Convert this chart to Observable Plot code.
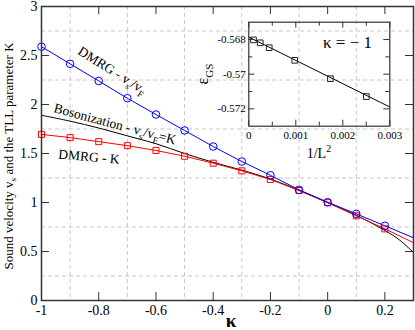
<!DOCTYPE html>
<html>
<head>
<meta charset="utf-8">
<script src="https://cdn.jsdelivr.net/npm/d3@7"></script>
<script src="https://cdn.jsdelivr.net/npm/@observablehq/plot@0.6"></script>
<style>
  html, body { margin: 0; padding: 0; background: white; }
  #chart { position: relative; width: 415px; height: 330px; }
  #chart svg { position: absolute; top: 0; }
  #chart svg, #chart svg text, #chart svg tspan { font-family: 'Liberation Serif', 'DejaVu Serif', serif !important; }
</style>
</head>
<body>
<div id="chart"></div>
<script>
// ---- main chart data ----
const kappa = [-1, -0.9, -0.8, -0.7, -0.6, -0.5, -0.4, -0.3, -0.2, -0.1, 0, 0.1, 0.2];
const vsDMRG = [2.59, 2.415, 2.24, 2.064, 1.898, 1.735, 1.571, 1.418, 1.278, 1.129, 1.003, 0.884, 0.762];
const kDMRG  = [1.695, 1.662, 1.621, 1.58, 1.531, 1.472, 1.401, 1.323, 1.235, 1.122, 0.998, 0.864, 0.731];
const kappaEdge = 0.3;
const vsEdge = 0.64;
const kEdge = 0.59;
const bosKappa = [-1, -0.9, -0.8, -0.7, -0.6, -0.5, -0.4, -0.3, -0.2, -0.1, 0, 0.1, 0.2, 0.25, 0.3];
const bosK     = [1.89, 1.83, 1.76, 1.68, 1.60, 1.50, 1.41, 1.33, 1.24, 1.125, 1.0, 0.87, 0.715, 0.62, 0.49];
const xMajor = [-1, -0.8, -0.6, -0.4, -0.2, 0, 0.2];
const xGrid  = [-0.9, -0.7, -0.5, -0.3, -0.1, 0.1];
const yMajor = [0, 0.5, 1, 1.5, 2, 2.5, 3];
const yGrid  = [0.25, 0.75, 1.25, 1.75, 2.25, 2.75];

// ---- inset data ----
const invL2 = [0.0001, 0.000244, 0.000434, 0.000977, 0.001736, 0.0025];
const eGS   = [-0.56802, -0.56819, -0.56847, -0.5692, -0.57026, -0.57129];
const fitX  = [0, 0.003];
const fitY  = [-0.56786, -0.57189];
const insetXMajor = [0, 0.001, 0.002, 0.003];
const insetXMinor = [0.0005, 0.0015, 0.0025];
const insetYMajor = [-0.568, -0.57, -0.572];
const insetYMinor = [-0.569, -0.571];

const blueData = kappa.map((k, i) => ({k, v: vsDMRG[i]}));
const redData = kappa.map((k, i) => ({k, v: kDMRG[i]}));
const blueLine = [...blueData, {k: kappaEdge, v: vsEdge}];
const redLine = [...redData, {k: kappaEdge, v: kEdge}];
const bosData = bosKappa.map((k, i) => ({k, v: bosK[i]}));
const insetData = invL2.map((x, i) => ({x, y: eGS[i]}));
const fitData = fitX.map((x, i) => ({x, y: fitY[i]}));

const FONT = "'Liberation Serif', 'DejaVu Serif', serif";
const BLUE = "#0000ff", RED = "#ff0000";

const W = 415, H = 330, ML = 41, MR = 2, MT = 6, MB = 30;
const fw = W - ML - MR, fh = H - MT - MB;

const main = Plot.plot({
  width: W, height: H,
  marginLeft: ML, marginRight: MR, marginTop: MT, marginBottom: MB,
  x: {domain: [-1, 0.3]},
  y: {domain: [0, 3]},
  style: {fontFamily: FONT, fontSize: "14px", background: "transparent", overflow: "visible", color: "black"},
  marks: [
    Plot.gridX(xGrid, {stroke: "#c8c8c8", strokeOpacity: 1, strokeDasharray: "4,3"}),
    Plot.gridY(yGrid, {stroke: "#c8c8c8", strokeOpacity: 1, strokeDasharray: "4,3"}),
    Plot.line(bosData, {x: "k", y: "v", curve: "catmull-rom", stroke: "black", strokeWidth: 1}),
    Plot.line(redLine, {x: "k", y: "v", stroke: RED, strokeWidth: 1}),
    Plot.line(blueLine, {x: "k", y: "v", stroke: BLUE, strokeWidth: 1}),
    Plot.dot(redData, {x: "k", y: "v", symbol: "square", r: 3.4, stroke: RED, fill: "none", strokeWidth: 1}),
    Plot.dot(blueData, {x: "k", y: "v", symbol: "circle", r: 3.8, stroke: BLUE, fill: "none", strokeWidth: 1}),
    Plot.tickX(xMajor, {x: d => d, insetTop: fh - 8, stroke: "#333"}),
    Plot.tickX(xMajor, {x: d => d, insetBottom: fh - 8, stroke: "#333"}),
    Plot.tickY(yMajor, {y: d => d, insetRight: fw - 8, stroke: "#333"}),
    Plot.tickY(yMajor, {y: d => d, insetLeft: fw - 8, stroke: "#333"}),
    Plot.frame({stroke: "#333", strokeWidth: 1.5}),
    Plot.axisX(xMajor, {tickSize: 0, tickPadding: 5, tickFormat: d => String(d), fontSize: 14, label: null}),
    Plot.axisY(yMajor, {tickSize: 0, tickPadding: 4, tickFormat: d => String(d), fontSize: 14, label: null})
  ]
});

const IW = 200, IH = 150, IL = 48.3, IR = 10.7, IT = 21.7, IB = 24.3;
const ifw = IW - IL - IR, ifh = IH - IT - IB;
const inset = Plot.plot({
  width: IW, height: IH,
  marginLeft: IL, marginRight: IR, marginTop: IT, marginBottom: IB,
  x: {domain: [0, 0.003]},
  y: {domain: [-0.573, -0.567]},
  style: {fontFamily: FONT, fontSize: "11px", background: "transparent", overflow: "visible", color: "black"},
  marks: [
    Plot.line(fitData, {x: "x", y: "y", stroke: "black", strokeWidth: 1}),
    Plot.dot(insetData, {x: "x", y: "y", symbol: "square", r: 3.2, stroke: "#222", fill: "none", strokeWidth: 1}),
    Plot.tickX(insetXMajor, {x: d => d, insetTop: ifh - 6, stroke: "#333"}),
    Plot.tickX(insetXMajor, {x: d => d, insetBottom: ifh - 6, stroke: "#333"}),
    Plot.tickX(insetXMinor, {x: d => d, insetTop: ifh - 4, stroke: "#333"}),
    Plot.tickX(insetXMinor, {x: d => d, insetBottom: ifh - 4, stroke: "#333"}),
    Plot.tickY(insetYMajor, {y: d => d, insetRight: ifw - 6, stroke: "#333"}),
    Plot.tickY(insetYMajor, {y: d => d, insetLeft: ifw - 6, stroke: "#333"}),
    Plot.tickY(insetYMinor, {y: d => d, insetRight: ifw - 4, stroke: "#333"}),
    Plot.tickY(insetYMinor, {y: d => d, insetLeft: ifw - 4, stroke: "#333"}),
    Plot.frame({stroke: "#333", strokeWidth: 1.2}),
    Plot.axisX(insetXMajor, {tickSize: 0, tickPadding: 5, tickFormat: d => String(d), fontSize: 11, label: null}),
    Plot.axisY(insetYMajor, {tickSize: 0, tickPadding: 3, tickFormat: d => String(d), fontSize: 11, label: null})
  ]
});

const chart = document.getElementById("chart");
main.style.left = "0px";
inset.style.left = "200px";
chart.appendChild(main);
chart.appendChild(inset);

// ---- labels with sub/superscripts ----
function addText(svgEl, x, y, rot, size, parts, anchor = "start", weight = "normal") {
  const t = d3.select(svgEl).append("text")
    .attr("x", x).attr("y", y)
    .style("font-family", FONT)
    .attr("font-size", size)
    .attr("font-weight", weight)
    .attr("fill", "black")
    .attr("text-anchor", anchor);
  if (rot) t.attr("transform", `rotate(${rot},${x},${y})`);
  let shift = 0;
  for (const [s, kind] of parts) {
    let target = 0, fs = size;
    if (kind === "sub") { target = size * 0.3; fs = size * 0.7; }
    else if (kind === "sup") { target = -size * 0.45; fs = size * 0.7; }
    t.append("tspan").attr("dy", target - shift).attr("font-size", fs).text(s);
    shift = target;
  }
  return t;
}

addText(main, 12.5, 156, -90, 13, [["Sound velocity v"], ["s", "sub"], [" and the TLL parameter K"]], "middle");
addText(main, 231, 327, 0, 19, [["κ"]], "middle", "bold");
addText(main, 77, 53.5, 32, 13.5, [["DMRG - v"], ["s", "sub"], ["/v"], ["F", "sub"]]);
addText(main, 53, 112, 15, 13.5, [["Bosonization - v"], ["s", "sub"], ["/v"], ["F", "sub"], ["=K"]]);
addText(main, 58, 158.5, 5, 13.5, [["DMRG - K"]]);
addText(inset, 123, 48, 0, 17, [["κ = − 1"]]);
addText(inset, 8, 74, -90, 16, [["ε"], ["GS", "sub"]], "middle");
addText(inset, 106.7, 158, 0, 14, [["1/L"], ["2", "sup"]]);
</script>
</body>
</html>
